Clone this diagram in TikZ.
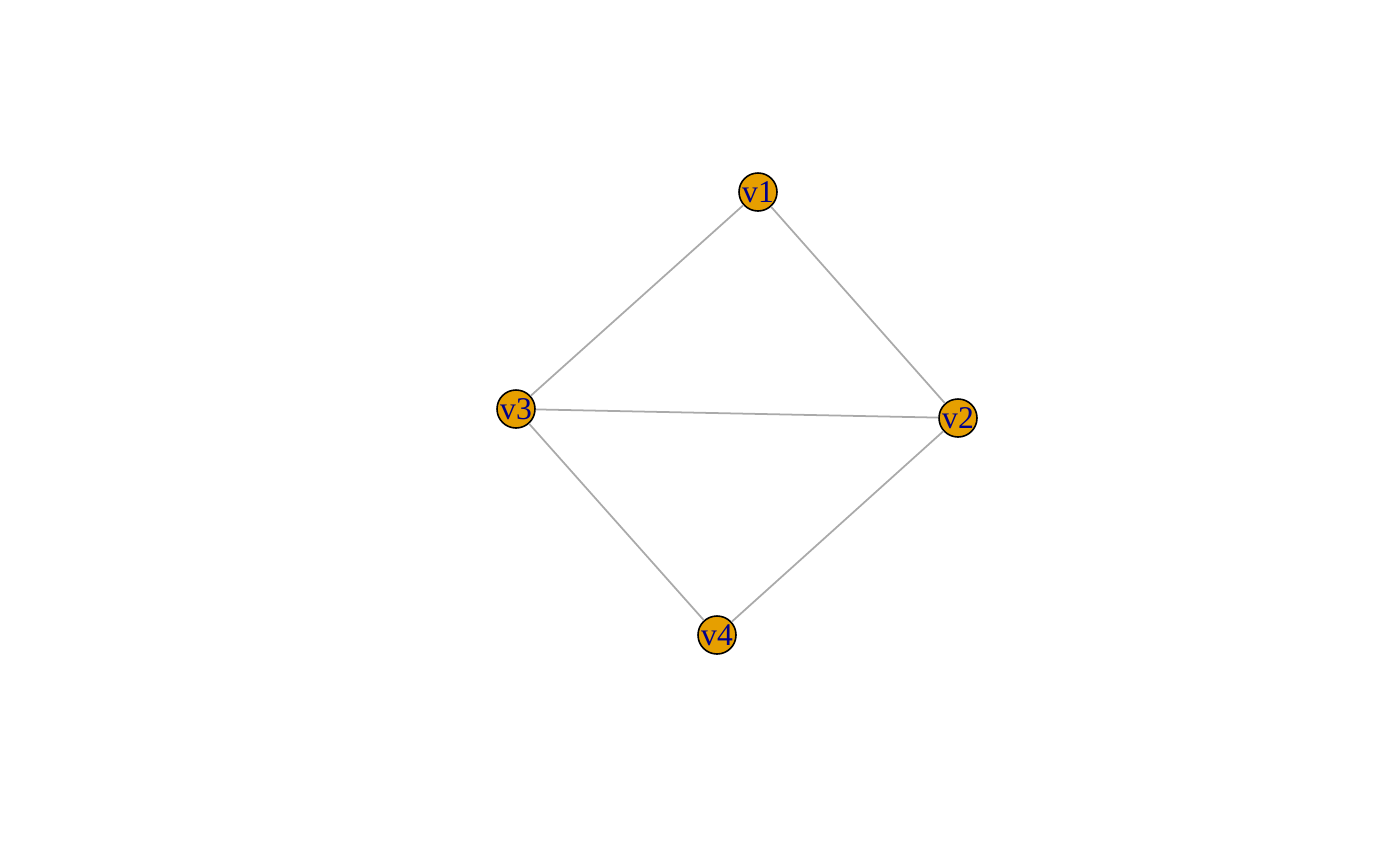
\documentclass[tikz,border=0pt]{standalone}
\usepackage{fontspec}
\setmainfont{Liberation Serif}
\usepackage{tikz}
\usetikzlibrary{positioning}
\definecolor{vertexorange}{RGB}{230,159,0}
\definecolor{labelblue}{RGB}{0,0,139}
\definecolor{edgegray}{RGB}{170,170,170}

\begin{document}
\begin{tikzpicture}[x=0.02cm, y=-0.02cm,
  vertex/.style={circle, draw=black, line width=0.9pt, fill=vertexorange,
                 minimum size=0.68cm, inner sep=0pt, text=labelblue,
                 font=\fontsize{18}{18}\selectfont},
  edge/.style={draw=edgegray, line width=1pt}
]
% Page frame
\useasboundingbox (0,0) rectangle (1400,866);

% Vertices
\node[vertex] (v1) at (758,192) {v1};
\node[vertex] (v2) at (958,418) {v2};
\node[vertex] (v3) at (516,409) {v3};
\node[vertex] (v4) at (717,635) {v4};

% Edges
\draw[edge] (v1) -- (v2);
\draw[edge] (v1) -- (v3);
\draw[edge] (v3) -- (v2);
\draw[edge] (v3) -- (v4);
\draw[edge] (v2) -- (v4);
\end{tikzpicture}
\end{document}
